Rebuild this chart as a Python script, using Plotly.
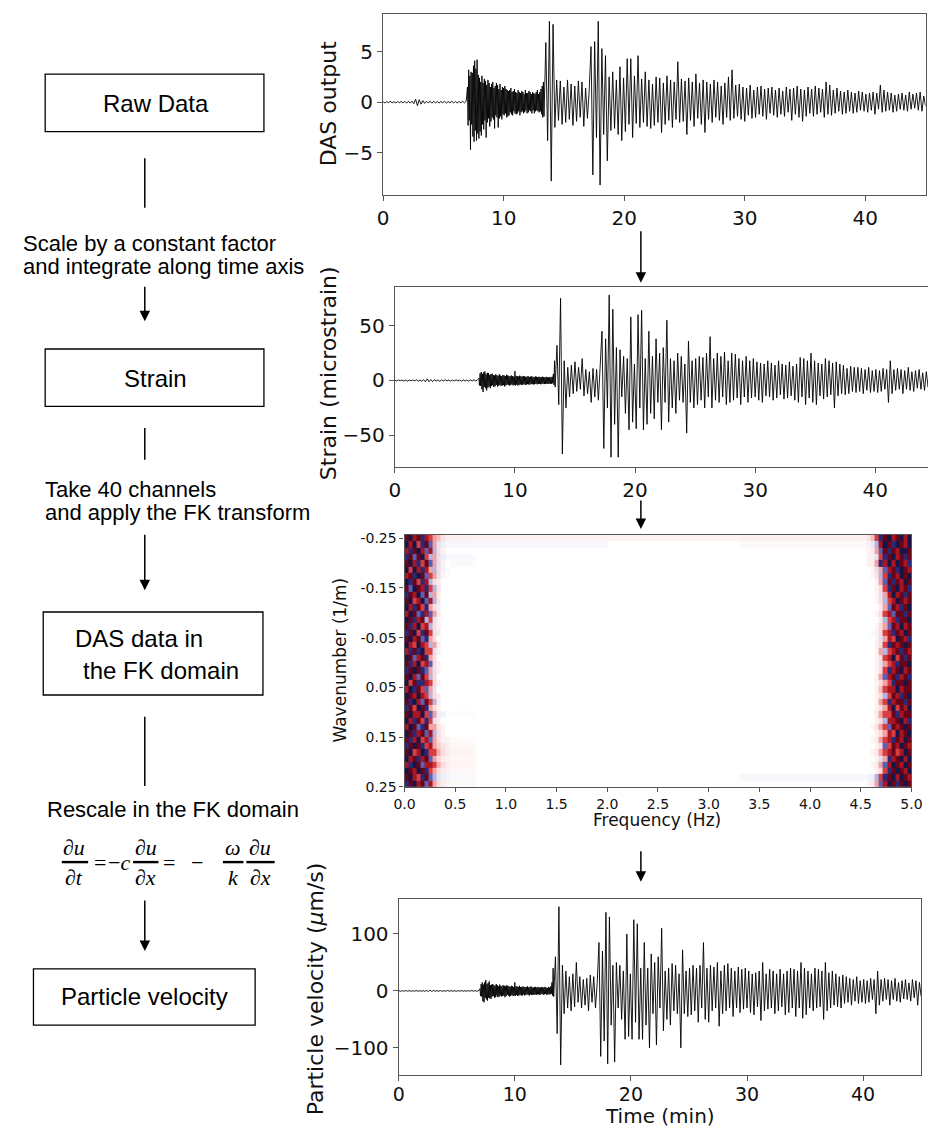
import numpy as np
import plotly.graph_objects as go

W, H = 939, 1137
def px(x): return x / W
def py(y): return 1 - y / H

# ---------------- data ----------------
# Each trace is stored in three pieces:
#   quiet part 0-6.9 min (0.15 min spacing), dense coda 7.0-13.35 min (0.05 min spacing),
#   main part 13.5-45 min (0.15 min spacing)
QUIET_T0, QUIET_DT = 0.0, 0.15
CODA_T0, CODA_DT = 7.0, 0.05
MAIN_T0, MAIN_DT = 13.5, 0.15

das_quiet = [
    0.05,-0.08,0.06,-0.05,0.08,-0.06,0.04,-0.07,0.06,-0.05,
    0.07,-0.06,0.08,-0.1,0.09,-0.08,0.1,-0.15,0.3,-0.35,
    0.25,-0.2,0.15,-0.12,0.1,-0.08,0.09,-0.1,0.08,-0.07,
    0.06,-0.08,0.07,-0.06,0.08,-0.09,0.07,-0.06,0.08,-0.07,
    0.06,-0.08,0.07,-0.06,0.09,-0.07,0.1,
]
das_coda = [
    1.5,-2.3,3.2,-1.8,2.6,-4.7,3.0,-2.2,2.9,-3.4,
    3.6,-3.9,4.1,-2.8,3.3,-3.8,4.2,-3.1,2.7,-3.6,
    2.4,-2.9,2.0,-3.3,2.6,-2.2,1.9,-2.7,2.3,-1.8,
    2.1,-3.5,1.7,-2.0,2.2,-1.6,1.9,-2.4,1.5,-1.9,
    1.8,-1.5,2.0,-1.7,1.4,-2.6,1.6,-1.3,1.9,-1.5,
    1.7,-2.5,1.3,-1.6,1.8,-1.4,1.2,-1.7,1.5,-1.2,
    1.4,-1.3,1.6,-1.1,1.3,-1.5,1.2,-1.4,1.1,-1.3,
    1.2,-1.0,1.4,-1.2,1.0,-1.3,1.1,-0.9,1.3,-1.1,
    1.0,-1.2,0.9,-1.1,1.2,-0.9,1.0,-1.3,0.9,-1.0,
    1.1,-0.9,1.0,-1.1,0.8,-1.0,1.2,-0.8,0.9,-1.1,
    0.9,-1.0,1.1,-0.8,1.0,-0.9,0.8,-1.1,1.0,-0.8,
    0.9,-1.1,0.8,-0.9,1.0,-0.8,1.2,-0.9,0.8,-1.0,
    1.0,-0.9,1.3,-1.2,1.6,-1.5,2.0,-1.4,
]
das_main = [
    5.9,-3.8,8.0,-7.8,7.7,-2.5,2.2,
    -1.8,2.1,-2.2,1.5,-2.0,2.2,-1.7,1.8,-2.3,1.6,
    -1.9,2.1,-1.5,2.0,-2.4,1.4,-1.6,1.2,5.5,-7.2,
    6.0,-3.5,8.0,-8.2,5.3,-3.2,4.6,-5.8,2.5,-2.8,
    3.0,-2.6,2.2,-3.2,3.5,-3.8,2.4,-2.9,4.3,-2.2,
    4.3,-3.5,2.6,-2.1,4.6,-2.5,2.3,-2.0,3.0,-2.4,
    2.2,-2.6,1.8,-2.3,2.5,-2.0,2.4,-3.0,1.9,-2.2,
    2.6,-1.8,2.2,-2.5,2.0,-1.7,4.0,-2.0,2.3,-1.9,
    2.1,-3.2,2.4,-1.8,2.0,-2.4,2.8,-1.6,1.9,-2.2,
    2.2,-3.0,2.0,-1.7,1.8,-2.0,2.2,-1.5,2.0,-1.8,
    1.6,-2.2,1.9,-1.5,2.5,-1.8,3.2,-1.6,1.7,-1.4,
    1.8,-1.7,1.5,-1.9,1.4,-1.3,1.7,-1.6,1.2,-1.5,
    1.5,-1.2,1.6,-1.4,1.3,-1.7,1.4,-1.1,1.5,-1.3,
    1.2,-1.5,1.4,-1.2,1.1,-1.4,1.5,-1.0,1.3,-1.8,
    1.4,-1.2,1.6,-1.5,1.3,-1.9,1.2,-1.4,1.5,-1.1,
    1.3,-1.4,1.6,-1.2,1.4,-1.0,1.3,-1.5,2.0,-1.2,
    1.7,-1.3,1.2,-1.1,1.4,-0.9,1.1,-1.2,1.0,-1.1,
    1.2,-0.9,1.0,-1.1,0.9,-1.0,1.1,-0.8,1.0,-0.9,
    0.8,-1.0,0.9,-0.8,1.0,-1.2,0.9,-0.7,1.7,-1.0,
    1.2,-0.9,1.0,-0.8,0.9,-1.0,0.7,-0.9,0.8,-0.7,
    0.9,-0.8,0.7,-0.9,1.0,-0.7,0.8,-0.6,0.9,-0.8,
    1.0,-0.9,0.6,-0.4,
]

strain_quiet = [
    0.3,-0.4,0.5,-0.3,0.4,-0.5,0.3,-0.6,0.4,-0.3,
    0.5,-0.4,0.6,-0.5,0.4,-0.7,0.8,-1.2,1.5,-1.0,
    0.9,-1.1,0.7,-0.6,0.5,-0.8,0.6,-0.5,0.7,-0.4,
    0.5,-0.6,0.4,-0.5,0.6,-0.4,0.5,-0.7,0.6,-0.5,
    0.4,-0.6,0.5,-0.4,0.6,-0.5,0.8,
]
strain_coda = [
    2.0,-4.5,6.5,-5.0,7.8,-8.0,6.0,-10.5,7.5,-6.0,
    8.2,-7.0,5.5,-9.0,7.0,-6.5,6.8,-5.5,5.0,-7.0,
    5.8,-5.0,6.2,-4.5,5.0,-6.0,4.5,-5.2,5.5,-4.0,
    4.8,-5.5,4.2,-4.8,5.6,-4.0,4.4,-5.0,4.0,-4.6,
    5.0,-4.2,4.5,-5.5,4.0,-4.4,5.2,-3.8,4.6,-4.0,
    4.2,-4.8,3.8,-4.2,4.6,-3.6,4.0,-4.5,3.5,-4.0,
    8.5,-4.5,4.2,-3.8,4.0,-4.6,3.6,-4.0,4.4,-3.5,
    3.8,-4.2,3.5,-3.9,4.1,-3.4,3.7,-4.0,3.3,-3.8,
    3.6,-3.3,4.0,-3.6,3.2,-3.8,3.5,-3.1,3.8,-3.4,
    3.3,-3.6,3.0,-3.4,3.7,-3.0,3.4,-3.5,3.1,-3.2,
    3.4,-3.0,3.2,-3.5,2.9,-3.2,3.5,-2.8,3.1,-3.3,
    2.9,-3.1,3.3,-2.8,3.0,-3.2,2.7,-3.0,3.2,-2.9,
    2.8,-3.0,3.5,-2.6,6.0,-4.0,18.0,-6.0,
]
strain_main = [
    32.0,-22.0,75.0,-67.0,18.0,-25.0,12.0,
    -15.0,14.0,-12.0,17.0,-10.0,12.0,-8.0,20.0,-14.0,10.0,
    -12.0,8.0,-20.0,11.0,-15.0,10.0,-18.0,20.0,45.0,-62.0,
    38.0,-25.0,78.0,-70.0,65.0,-40.0,30.0,-70.0,28.0,-15.0,
    22.0,-30.0,20.0,-45.0,58.0,-38.0,15.0,-44.0,60.0,-25.0,
    64.0,-45.0,20.0,-40.0,45.0,-30.0,22.0,-35.0,38.0,-20.0,
    25.0,-45.0,30.0,-20.0,55.0,-38.0,20.0,-25.0,18.0,-30.0,
    25.0,-18.0,22.0,-20.0,15.0,-48.0,36.0,-20.0,18.0,-25.0,
    20.0,-22.0,22.0,-18.0,21.0,-25.0,25.0,-15.0,40.0,-25.0,
    20.0,-18.0,25.0,-20.0,22.0,-15.0,26.0,-22.0,18.0,-20.0,
    25.0,-18.0,24.0,-16.0,20.0,-22.0,18.0,-15.0,22.0,-20.0,
    18.0,-16.0,20.0,-15.0,17.0,-18.0,16.0,-20.0,15.0,-14.0,
    18.0,-15.0,16.0,-18.0,14.0,-16.0,18.0,-13.0,15.0,-17.0,
    14.0,-16.0,17.0,-14.0,13.0,-18.0,15.0,-20.0,21.0,-15.0,
    20.0,-22.0,18.0,-16.0,25.0,-20.0,18.0,-22.0,16.0,-14.0,
    15.0,-17.0,20.0,-15.0,18.0,-13.0,16.0,-25.0,17.0,-14.0,
    15.0,-12.0,14.0,-13.0,11.0,-12.0,13.0,-10.0,12.0,-11.0,
    12.0,-10.0,11.0,-12.0,10.0,-9.0,12.0,-11.0,9.0,-10.0,
    10.0,-11.0,9.0,-10.0,11.0,-8.0,10.0,-20.0,18.0,-12.0,
    10.0,-9.0,11.0,-8.0,10.0,-12.0,9.0,-8.0,12.0,-9.0,
    8.0,-10.0,9.0,-7.0,10.0,-8.0,7.0,-9.0,8.0,-6.0,
    9.0,-7.0,8.0,-5.0,
]

velocity_quiet = [
    0.5,-0.6,0.4,-0.5,0.6,-0.4,0.5,-0.6,0.4,-0.5,
    0.6,-0.5,0.4,-0.6,0.5,-0.7,0.8,-1.0,1.2,-0.9,
    0.8,-0.7,0.6,-0.5,0.6,-0.7,0.5,-0.6,0.7,-0.5,
    0.6,-0.5,0.4,-0.6,0.5,-0.4,0.6,-0.5,0.4,-0.6,
    0.5,-0.4,0.6,-0.5,0.4,-0.6,0.8,
]
velocity_coda = [
    4.0,-9.0,12.0,-10.0,15.0,-18.0,11.0,-20.0,15.0,-12.0,
    19.0,-15.0,12.0,-17.0,14.0,-12.0,17.0,-13.0,10.0,-14.0,
    11.0,-10.0,12.0,-9.0,10.0,-12.0,9.0,-11.0,12.0,-8.0,
    10.0,-11.0,8.0,-10.0,11.0,-8.0,9.0,-10.0,8.0,-9.0,
    10.0,-8.0,9.0,-11.0,8.0,-9.0,10.0,-7.0,9.0,-8.0,
    8.0,-10.0,7.0,-9.0,9.0,-7.0,8.0,-9.0,7.0,-8.0,
    15.0,-9.0,8.0,-7.0,8.0,-9.0,7.0,-8.0,9.0,-7.0,
    7.0,-8.0,7.0,-8.0,8.0,-6.0,7.0,-8.0,6.0,-7.0,
    7.0,-6.0,8.0,-7.0,6.0,-8.0,7.0,-6.0,8.0,-7.0,
    6.0,-7.0,6.0,-7.0,7.0,-6.0,7.0,-7.0,6.0,-6.0,
    7.0,-6.0,6.0,-7.0,6.0,-6.0,7.0,-5.0,6.0,-7.0,
    6.0,-6.0,7.0,-5.0,6.0,-7.0,5.0,-6.0,7.0,-6.0,
    6.0,-6.0,8.0,-5.0,15.0,-8.0,40.0,-10.0,
]
velocity_main = [
    60.0,-75.0,148.0,-130.0,45.0,-40.0,35.0,
    -30.0,25.0,-35.0,30.0,-28.0,50.0,-20.0,25.0,-30.0,20.0,
    -25.0,22.0,-35.0,28.0,-20.0,25.0,-30.0,15.0,85.0,-115.0,
    70.0,-88.0,138.0,-128.0,130.0,-60.0,45.0,-125.0,50.0,-30.0,
    45.0,-50.0,35.0,-85.0,100.0,-80.0,30.0,-85.0,125.0,-55.0,
    118.0,-85.0,40.0,-85.0,85.0,-60.0,40.0,-100.0,65.0,-40.0,
    50.0,-95.0,60.0,-30.0,110.0,-70.0,35.0,-50.0,40.0,-60.0,
    48.0,-35.0,45.0,-40.0,30.0,-100.0,72.0,-40.0,35.0,-45.0,
    40.0,-42.0,45.0,-35.0,40.0,-55.0,45.0,-30.0,85.0,-50.0,
    40.0,-55.0,45.0,-35.0,42.0,-30.0,50.0,-62.0,35.0,-40.0,
    45.0,-35.0,48.0,-30.0,40.0,-45.0,35.0,-30.0,42.0,-38.0,
    38.0,-32.0,40.0,-30.0,35.0,-38.0,30.0,-42.0,32.0,-28.0,
    35.0,-52.0,50.0,-35.0,30.0,-32.0,38.0,-30.0,35.0,-40.0,
    30.0,-35.0,38.0,-28.0,30.0,-42.0,35.0,-38.0,40.0,-30.0,
    38.0,-45.0,35.0,-30.0,50.0,-48.0,40.0,-42.0,35.0,-30.0,
    30.0,-35.0,40.0,-30.0,38.0,-28.0,35.0,-50.0,50.0,-35.0,
    32.0,-30.0,35.0,-25.0,30.0,-28.0,25.0,-30.0,28.0,-22.0,
    25.0,-20.0,22.0,-25.0,20.0,-18.0,25.0,-22.0,18.0,-20.0,
    20.0,-22.0,18.0,-20.0,22.0,-15.0,20.0,-40.0,35.0,-25.0,
    20.0,-18.0,22.0,-15.0,20.0,-25.0,18.0,-15.0,22.0,-18.0,
    15.0,-20.0,18.0,-14.0,20.0,-15.0,14.0,-18.0,20.0,-12.0,
    18.0,-25.0,15.0,-10.0,
]

# FK amplitude (signed levels), 40 wavenumber rows
fk_freq_edges = [0.0, 0.04, 0.08, 0.12, 0.16, 0.20, 0.24, 0.28, 0.32, 0.36, 0.40, 0.44,
                 0.70, 2.00, 3.30, 4.56,
                 4.60, 4.64, 4.68, 4.72, 4.76, 4.80, 4.84, 4.88, 4.92, 4.96, 5.00]
fk_k_min, fk_k_max, fk_rows = -0.2565, 0.25, 40

fk_left = [
    [4,-4,3,4,-3,3,2,1,0.8,0.4,0.25],
    [-4,3,-4,2,-3,4,-2,1,-0.5,-0.3,-0.15],
    [3,-3,4,-4,3,-2,3,-1,0.5,0.2,0],
    [-3,4,-2,4,-4,2,-1,1,-0.5,-0.3,-0.15],
    [4,-4,3,-3,2,4,-2,1,-0.5,0.2,0],
    [-4,2,-4,3,-3,3,1,-1,0.5,-0.2,-0.1],
    [3,4,-3,-4,4,-2,2,1,-0.5,0.15,0],
    [-4,-3,4,2,-3,3,-1,0.5,0.3,0,0],
    [4,-2,-4,4,3,-3,2,-1,0.4,0,0],
    [-3,4,3,-4,-2,4,-1,1,0.3,0,0],
    [4,-4,2,3,-4,-2,3,-1,0.4,0,0],
    [-4,3,-3,4,2,-3,1,0.5,-0.3,0,0],
    [3,-4,4,-2,-3,3,-2,1,0.3,0,0],
    [-4,4,-3,3,4,-1,2,-0.5,0.2,0,0],
    [4,-3,3,-4,2,3,-1,0.5,0.2,0,0],
    [-3,4,-4,2,-3,4,2,-0.5,0.3,0,0],
    [4,-4,3,4,-2,-3,1,0.5,0,0,0],
    [-4,3,2,-4,3,2,-1,1,0.3,0,0],
    [3,-3,4,-3,-4,2,2,-0.5,0.2,0,0],
    [-4,4,-2,3,4,-3,1,0.5,0,0,0],
    [4,-3,3,-4,2,3,-2,0.5,0.2,0,0],
    [-3,4,-4,4,-3,-2,1,-0.5,0.2,0,0],
    [4,-4,3,-2,4,2,-1,0.5,0,0,0],
    [-4,2,4,-3,-3,3,2,0.5,0.2,0,0],
    [3,-4,-3,4,2,-2,1,-0.5,0,0,0],
    [-4,4,3,-4,3,2,-1,0.5,0.3,0,0],
    [4,-3,-4,3,-2,4,2,-1,0.3,0,0],
    [-3,4,2,-4,4,-3,1,0.5,0.2,0,0],
    [4,-4,3,3,-4,2,-2,1,-0.3,-0.2,0],
    [-4,3,-3,4,2,-3,2,-0.5,0.3,0,0],
    [3,-4,4,-2,-3,4,1,1,0.4,0.15,0],
    [-4,4,-3,3,4,-2,3,-1,0.5,0.2,0],
    [4,-3,3,-4,2,3,-2,1,0.5,0.2,0.15],
    [-3,4,-4,4,-3,2,3,1,0.7,0.4,0.25],
    [4,-4,2,3,-4,-3,2,2,0.9,0.5,0.3],
    [-4,3,4,-3,3,4,-2,1,0.6,0.3,0.2],
    [3,-3,-4,4,-2,3,3,2,0.9,0.5,0.3],
    [-4,4,3,-4,4,-3,2,1,0.5,0.3,0.2],
    [4,-4,3,2,-3,4,-2,-1,-0.5,-0.3,-0.2],
    [-3,4,-4,3,4,-2,3,1,0.5,0.3,0.15],
]
fk_mid = [
    [0.22,0.18,0.18,0.22],[-0.15,-0.12,0,0.08],[0,0,0,0],[-0.1,0,0,0],[-0.08,0,0,0],
    [0,0,0,0],[0,0,0,0],[0,0,0,0],[0,0,0,0],[0,0,0,0],
    [0,0,0,0],[0,0,0,0],[0,0,0,0],[0,0,0,0],[0,0,0,0],
    [0,0,0,0],[0,0,0,0],[0,0,0,0],[0,0,0,0],[0,0,0,0],
    [0,0,0,0],[0,0,0,0],[0,0,0,0],[0,0,0,0],[0,0,0,0],
    [0,0,0,0],[0,0,0,0],[0,0,0,0],[-0.05,0,0,0],[0,0,0,0],
    [0,0,0,0],[0,0,0,0],[0.05,0,0,0],[0.12,0,0,0],[0.15,0,0,0],
    [0.12,0,0,0],[0.15,0,0,0],[0.1,0,0,0],[-0.1,0,0,-0.12],[0.08,0,0,0],
]
fk_right = [
    [0.4,0.8,2,-3,4,-4,3,4,-4,3,-4],
    [0.2,-0.4,-1,3,-4,4,-3,-4,4,3,-4],
    [0.15,0.3,1,-2,4,-3,4,3,-4,-4,4],
    [0.15,0.2,-0.5,2,-3,4,-4,3,4,-3,4],
    [0.2,0.3,1,-3,3,-4,3,-4,4,3,-3],
    [0,0.15,-0.5,1,-2,3,4,-3,-4,4,3],
    [0,0.15,0.4,-1,2,-3,4,3,-4,4,-4],
    [0,0,0.2,1,-2,4,-3,4,3,-4,4],
    [0,0,0.2,0.5,2,-3,4,-4,3,4,-3],
    [0,0,0.15,-0.5,1,3,-4,3,4,-3,4],
    [0,0,0.15,0.5,-1,2,3,-4,4,3,4],
    [0,0,0,0.3,1,-2,4,3,-3,4,-4],
    [0,0,0.15,0.5,2,3,-2,4,4,-3,4],
    [0,0,0,0.3,-1,2,3,-3,4,4,-4],
    [0,0,0.15,0.5,1,-2,4,3,-4,3,4],
    [0,-0.1,-0.2,0.5,2,3,-3,4,3,-4,4],
    [0,0,0.15,-0.5,1,3,2,-4,4,3,-3],
    [0,0,0.2,0.5,2,-3,4,3,4,-4,4],
    [0,0,0.15,1,-1,2,3,4,-3,4,3],
    [0,0,0.15,0.5,2,3,-4,2,4,-3,4],
    [0,0,0.2,-0.5,1,2,3,-3,4,4,-4],
    [0,0,0.15,0.5,2,-3,3,4,-4,3,4],
    [0,0,0.2,1,-2,3,4,-3,3,4,-3],
    [0,0,0.15,0.5,1,2,-3,4,4,-4,4],
    [0,0,0.2,0.8,2,3,3,-4,3,4,4],
    [0,0,0.2,0.5,-1,2,4,3,-3,4,-4],
    [0,0,0.15,1,2,-3,3,4,4,-3,4],
    [0,0,0.2,0.5,1,3,-4,2,4,3,-4],
    [0,0,0.3,1,2,2,4,-3,3,4,4],
    [0,0,0.2,0.5,-1,3,3,4,-4,3,-3],
    [0,0.15,0.4,1,2,-2,4,3,4,-4,4],
    [0,0,0.2,0.5,1,3,2,-4,3,4,-4],
    [0,0.15,0.3,1,2,3,-3,4,3,-4,4],
    [0,0,0.2,0.5,-2,2,4,3,-4,4,3],
    [0,0.15,0.3,1,2,3,4,2,3,-4,4],
    [0,0,0.2,-0.5,1,-3,3,4,-4,3,-4],
    [0,0.15,0.3,1,-2,3,-4,4,3,-4,4],
    [0,0,0.2,0.5,2,-3,4,-4,4,3,-4],
    [-0.2,-0.3,-1,2,-3,4,-4,3,-4,4,3],
    [0.15,0.3,1,-2,3,-4,4,-3,4,-4,4],
]

tick_time = [0, 10, 20, 30, 40]
fk_ktick_vals = [-0.25, -0.15, -0.05, 0.05, 0.15, 0.25]
fk_ktick_text = ['-0.25', '-0.15', '-0.05', '0.05', '0.15', '0.25']
fk_ftick_vals = [0.0, 0.5, 1.0, 1.5, 2.0, 2.5, 3.0, 3.5, 4.0, 4.5, 5.0]
fk_ftick_text = ['0.0', '0.5', '1.0', '1.5', '2.0', '2.5', '3.0', '3.5', '4.0', '4.5', '5.0']

# ---------------- build ----------------
def assemble(quiet, coda, main):
    t = np.concatenate([QUIET_T0 + np.arange(len(quiet)) * QUIET_DT,
                        CODA_T0 + np.arange(len(coda)) * CODA_DT,
                        MAIN_T0 + np.arange(len(main)) * MAIN_DT])
    return t, list(quiet) + list(coda) + list(main)

t_das, y_das = assemble(das_quiet, das_coda, das_main)
t_str, y_str = assemble(strain_quiet, strain_coda, strain_main)
t_vel, y_vel = assemble(velocity_quiet, velocity_coda, velocity_main)
fk_k_edges = np.linspace(fk_k_min, fk_k_max, fk_rows + 1)
fk_z = [fk_left[r] + fk_mid[r] + fk_right[r] for r in range(fk_rows)]

fk_colors = [[0.0, 'rgb(25,20,70)'], [0.15, 'rgb(45,45,130)'], [0.3, 'rgb(120,120,200)'],
             [0.42, 'rgb(218,218,240)'], [0.5, 'rgb(255,255,255)'], [0.58, 'rgb(250,210,210)'],
             [0.7, 'rgb(232,80,80)'], [0.85, 'rgb(180,25,35)'], [1.0, 'rgb(105,5,25)']]

fig = go.Figure()
line_style = dict(color='black', width=0.9)
fig.add_trace(go.Scatter(x=t_das, y=y_das, mode='lines', line=line_style, xaxis='x', yaxis='y', hoverinfo='skip'))
fig.add_trace(go.Scatter(x=t_str, y=y_str, mode='lines', line=line_style, xaxis='x2', yaxis='y2', hoverinfo='skip'))
fig.add_trace(go.Heatmap(x=fk_freq_edges, y=fk_k_edges, z=fk_z, colorscale=fk_colors, zmin=-4, zmax=4,
                         showscale=False, xaxis='x3', yaxis='y3', hoverinfo='skip'))
fig.add_trace(go.Scatter(x=t_vel, y=y_vel, mode='lines', line=line_style, xaxis='x4', yaxis='y4', hoverinfo='skip'))

MPL = 'DejaVu Sans'
AXC = '#555555'
def ax(fs=20, **kw):
    d = dict(showline=True, linecolor=AXC, linewidth=1.2, mirror=True, ticks='outside', ticklen=5,
             tickwidth=1.2, tickcolor=AXC, showgrid=False, zeroline=False,
             tickfont=dict(family=MPL, size=fs, color='#111111'))
    d.update(kw)
    return d

fig.update_layout(
    width=W, height=H, autosize=False, margin=dict(l=0, r=0, t=0, b=0, pad=0),
    paper_bgcolor='white', plot_bgcolor='white', showlegend=False,
    xaxis=ax(domain=[px(381), px(936.5)], range=[0, 45], tickvals=tick_time, anchor='y'),
    yaxis=ax(domain=[py(192), py(9)], range=[-9.16, 8.73], tickvals=[-5, 0, 5], anchor='x'),
    xaxis2=ax(domain=[px(393), 1.0], range=[0, (939 - 393) / 12.3], tickvals=tick_time, anchor='y2'),
    yaxis2=ax(domain=[py(467), py(285)], range=[-78.6, 85.5], tickvals=[-50, 0, 50], anchor='x2', mirror=False),
    xaxis3=ax(fs=14, domain=[px(403), px(922)], range=[0, 5], tickvals=fk_ftick_vals, ticktext=fk_ftick_text,
              anchor='y3', ticklen=4),
    yaxis3=ax(fs=14, domain=[py(791), py(536)], range=[0.25, -0.2565], tickvals=fk_ktick_vals,
              ticktext=fk_ktick_text, anchor='x3', ticklen=4),
    xaxis4=ax(fs=19, domain=[px(397), px(932)], range=[0, 45], tickvals=tick_time, anchor='y4',
              ticklabelstandoff=-3),
    yaxis4=ax(domain=[py(1082), py(904)], range=[-147, 162], tickvals=[-100, 0, 100], anchor='x4'),
)

ann = []
def text(x, y, s, size, family='Liberation Sans', xanchor='center', angle=0, color='black', pad=1):
    ann.append(dict(x=px(x), y=py(y), xref='paper', yref='paper', text=s, showarrow=False,
                    xanchor=xanchor, yanchor='middle', textangle=angle, borderpad=pad,
                    font=dict(family=family, size=size, color=color)))

# axis titles (matplotlib style)
text(325, 100, 'DAS output', 22, MPL, angle=-90, color='#111111')
text(325, 372, 'Strain (microstrain)', 22, MPL, angle=-90, color='#111111')
text(337, 663, 'Wavenumber (1/m)', 17, MPL, angle=-90, color='#111111')
text(662, 824, 'Frequency (Hz)', 17, MPL, color='#111111')
text(312, 995, 'Particle velocity (<i>μ</i>m/s)', 22, MPL, angle=-90, color='#111111')
text(665, 1124, 'Time (min)', 20, MPL, color='#111111', pad=0)

# flowchart text
BOX_FS = 24
NOTE_FS = 22
text(148, 100, 'Raw Data', BOX_FS)
text(10, 241, 'Scale by a constant factor', NOTE_FS, xanchor='left')
text(10, 265, 'and integrate along time axis', NOTE_FS, xanchor='left')
text(148, 378, 'Strain', BOX_FS)
text(33, 490, 'Take 40 channels', NOTE_FS, xanchor='left')
text(33, 513, 'and apply the FK transform', NOTE_FS, xanchor='left')
text(63, 641, 'DAS data in', BOX_FS, xanchor='left')
text(72, 673, 'the FK domain', BOX_FS, xanchor='left')
text(35, 814, 'Rescale in the FK domain', NOTE_FS, xanchor='left')
text(137, 1003, 'Particle velocity', BOX_FS)

# equation
EQF = 'Liberation Serif'
EQS = 22
text(65, 852, '<i>∂u</i>', EQS, EQF, pad=0)
text(65, 883, '<i>∂t</i>', EQS, EQF, pad=0)
text(91, 867, '=', EQS, EQF, pad=0)
text(111, 867, '−<i>c</i>', EQS, EQF, pad=0)
text(138, 852, '<i>∂u</i>', EQS, EQF, pad=0)
text(138, 883, '<i>∂x</i>', EQS, EQF, pad=0)
text(162, 867, '=', EQS, EQF, pad=0)
text(190, 867, '−', EQS, EQF, pad=0)
text(227, 852, '<i>ω</i>', EQS, EQF, pad=0)
text(228, 883, '<i>k</i>', EQS, EQF, pad=0)
text(255, 852, '<i>∂u</i>', EQS, EQF, pad=0)
text(255, 883, '<i>∂x</i>', EQS, EQF, pad=0)

# arrows
def arrow(x, y0, y1):
    ann.append(dict(x=px(x), y=py(y1), xref='paper', yref='paper', ax=0, ay=-(y1 - y0),
                    axref='pixel', ayref='pixel', showarrow=True, arrowhead=2, arrowsize=1.4,
                    arrowwidth=1.5, arrowcolor='black', text=''))
arrow(137, 284, 320)
arrow(137, 535, 592)
arrow(137, 905, 957)
arrow(645, 228, 281)
arrow(645, 500, 530)
arrow(645, 855, 887)
fig.update_layout(annotations=ann)

shapes = []
def box(x0, y0, x1, y1):
    shapes.append(dict(type='rect', xref='paper', yref='paper', x0=px(x0), x1=px(x1), y0=py(y1), y1=py(y0),
                       line=dict(color='black', width=1.3), fillcolor='rgba(0,0,0,0)'))
def vline(x, y0, y1, w=1.5):
    shapes.append(dict(type='line', xref='paper', yref='paper', x0=px(x), x1=px(x), y0=py(y0), y1=py(y1),
                       line=dict(color='black', width=w)))
def hline(x0, x1, y, w=2.4):
    shapes.append(dict(type='line', xref='paper', yref='paper', x0=px(x0), x1=px(x1), y0=py(y), y1=py(y),
                       line=dict(color='black', width=w)))
box(35, 70, 259, 128)
box(35, 348, 259, 406)
box(33, 614, 258, 698)
box(23, 975, 250, 1032)
vline(137, 155, 205)
vline(137, 428, 460)
vline(137, 720, 790)
hline(52, 79, 867)
hline(125, 151, 867)
hline(217, 238, 867)
hline(241, 270, 867)
fig.update_layout(shapes=shapes)

fig.write_html('out.html', config={'displayModeBar': False},
               post_script="document.body.style.margin='0';document.body.style.padding='0';"
                           "document.body.style.overflow='hidden';")
